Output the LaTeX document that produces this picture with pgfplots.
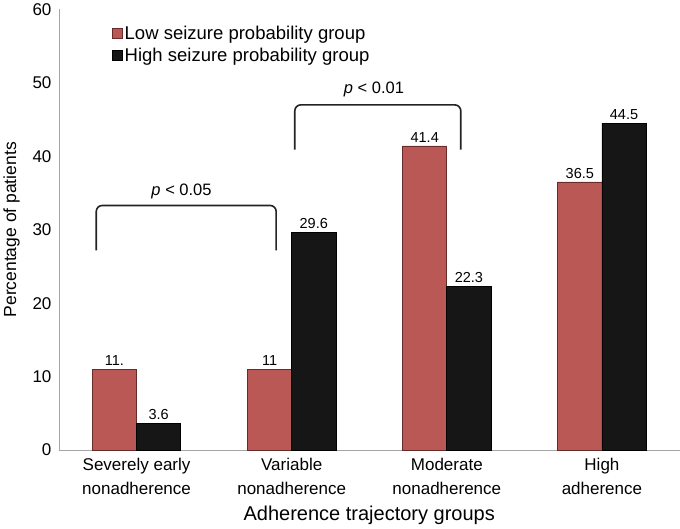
\documentclass[border=0pt]{standalone}
\usepackage{fontspec}
\setmainfont{Liberation Sans}
\usepackage{pgfplots}
\pgfplotsset{compat=1.18}
\definecolor{lowred}{RGB}{186,88,86}
\definecolor{lowedge}{RGB}{105,42,42}
\definecolor{highblk}{RGB}{22,22,22}
\definecolor{axgray}{RGB}{165,165,165}
\definecolor{brk}{RGB}{35,35,35}
\begin{document}
\begin{tikzpicture}
\begin{axis}[
  width=618bp, height=439bp, scale only axis,
  xmin=-0.5, xmax=3.5, ymin=0, ymax=60,
  axis x line=bottom, axis y line=left,
  axis line style={-, draw=axgray, line width=1bp},
  ytick={0,10,...,60}, xtick={0,1,2,3},
  xticklabels={{Severely early\\nonadherence},{Variable\\nonadherence},{Moderate\\nonadherence},{High\\adherence}},
  xticklabel style={align=center, font=\fontsize{17}{23}\selectfont, yshift=-5bp},
  yticklabel style={font=\fontsize{17}{20}\selectfont, xshift=-4bp},
  major tick length=0pt,
  /pgf/number format/assume math mode=true,
  xlabel={Adherence trajectory groups},
  ylabel={Percentage of patients},
  xlabel style={font=\fontsize{20}{24}\selectfont, yshift=-5bp},
  ylabel style={font=\fontsize{17.5}{21}\selectfont, yshift=6bp},
  ybar=0pt, bar width=0.285,
  nodes near coords, point meta=explicit symbolic,
  every node near coord/.append style={font=\fontsize{14.5}{17}\selectfont, black},
  legend style={at={(0.08,0.972)}, anchor=north west, draw=none, fill=none,
    font=\fontsize{18.5}{22}\selectfont, row sep=3bp},
  legend cell align=left,
  legend image code/.code={\draw[#1] (0bp,-5bp) rectangle (10bp,5bp);},
]
\addplot[fill=lowred, draw=lowedge, line width=0.8bp]
  coordinates {(0,11)[11.] (1,11)[11] (2,41.4)[41.4] (3,36.5)[36.5]};
\addplot[fill=highblk, draw=black, line width=0.8bp]
  coordinates {(0,3.6)[3.6] (1,29.6)[29.6] (2,22.3)[22.3] (3,44.5)[44.5]};
\legend{Low seizure probability group, High seizure probability group}

% significance brackets
\draw[brk, line width=1.6bp, rounded corners=6bp]
  (axis cs:-0.26,27.2) -- (axis cs:-0.26,33.3) -- (axis cs:0.90,33.3) -- (axis cs:0.90,27.2);
\node[font=\fontsize{16.5}{20}\selectfont] at (axis cs:0.29,35.2) {\textit{p} < 0.05};
\draw[brk, line width=1.6bp, rounded corners=6bp]
  (axis cs:1.02,40.9) -- (axis cs:1.02,47.0) -- (axis cs:2.09,47.0) -- (axis cs:2.09,40.9);
\node[font=\fontsize{16.5}{20}\selectfont] at (axis cs:1.53,49.1) {\textit{p} < 0.01};
\end{axis}
\end{tikzpicture}
\end{document}
